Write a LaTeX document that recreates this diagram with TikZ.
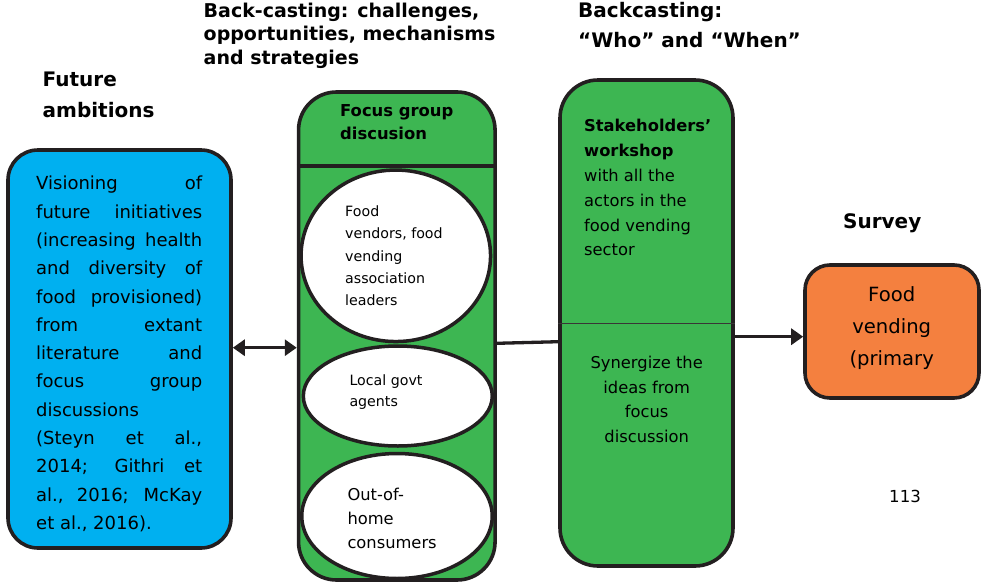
\documentclass[tikz,border=0pt]{standalone}
\usepackage{fontspec}
\setmainfont{DejaVu Sans}
\usetikzlibrary{arrows.meta,shapes.geometric}

\definecolor{skyfill}{HTML}{00B0F0}
\definecolor{grassfill}{HTML}{3DB652}
\definecolor{carrot}{HTML}{F4803F}
\definecolor{inkline}{HTML}{231F20}

\newcommand\fsz[2]{\fontsize{#1}{#2}\selectfont}
% one justified line of the visioning text
\newcommand\jl[1]{\makebox[166pt][s]{#1}}

\begin{document}
\begin{tikzpicture}[x=1pt,y=-1pt,
  panel/.style={draw=inkline, line width=3.6pt, rounded corners=#1, inner sep=0pt},
  bubble/.style={ellipse, draw=inkline, line width=3.5pt, fill=white, inner sep=0pt},
  label/.style={inner sep=0pt, text=black},
  heading/.style={label, font=\bfseries\fsz{19}{23.5}, align=left, anchor=north west},
  link/.style={draw=inkline, line width=3.3pt},
  tiphead/.tip={Triangle[length=12pt,width=16pt]}
]
\useasboundingbox (0,0) rectangle (983,584);

% column headings
\node[heading, font=\bfseries\fsz{20}{31}] (hFuture) at (42.5,72) {Future\\ambitions};
\node[heading] (hBack) at (203.5,2.8) {Back-casting: challenges,\\opportunities, mechanisms\\and strategies};
\node[heading, font=\bfseries\fsz{20}{30}] (hWho) at (578,1.8) {Backcasting:\\“Who” and “When"};
\node[label, font=\bfseries\fsz{20}{24}, anchor=base west] (hSurvey) at (843,228) {Survey};

% visioning panel
\node[panel=30pt, fill=skyfill, minimum width=223pt, minimum height=398pt] (vision) at (119.5,349) {};
\node[label, font=\fsz{18}{28.33}, align=left, anchor=north west] (visionText) at (36,175.8) {%
  \jl{Visioning of}\\
  \jl{future initiatives}\\
  \jl{(increasing health}\\
  \jl{and diversity of}\\
  \jl{food provisioned)}\\
  \jl{from extant}\\
  \jl{literature and}\\
  \jl{focus group}\\
  discussions\\
  \jl{(Steyn et al.,}\\
  \jl{2014; Githri et}\\
  \jl{al., 2016; McKay}\\
  et al., 2016).};

% focus group column
\node[panel=38pt, fill=grassfill, minimum width=196.5pt, minimum height=488pt] (focus) at (396.8,336) {};
\draw[draw=inkline, line width=3.6pt] (focus.west |- 0,166) coordinate (fsL) -- (focus.east |- 0,166) coordinate (fsR);
\node[label, font=\bfseries\fsz{16.4}{23.5}, align=left, anchor=north west] (focusText) at (340,104.2) {Focus group\\discusion};

\node[bubble, minimum width=189.5pt, minimum height=171.5pt] (vendors) at (395.8,255.8) {};
\node[bubble, minimum width=189pt, minimum height=100pt] (govt) at (397.8,396) {};
\node[bubble, minimum width=190.5pt, minimum height=125pt] (consumers) at (397,516) {};

\node[label, font=\fsz{14.2}{22.1}, align=left, anchor=north west] (vendorsText) at (345,205.9)
  {Food\\vendors, food\\vending\\association\\leaders};
\node[label, font=\fsz{14.2}{21.7}, align=left, anchor=north west] (govtText) at (349.3,374.2)
  {Local govt\\agents};
\node[label, font=\fsz{16.3}{24}, align=left, anchor=north west] (consumersText) at (347.3,487.6)
  {Out-of-\\home\\consumers};

% stakeholders' workshop column
\node[panel=38pt, fill=grassfill, minimum width=173pt, minimum height=486pt] (stake) at (646.5,323) {};
\draw[draw=inkline!90, line width=1.4pt] (stake.west |- 0,323.3) coordinate (ssL) -- (stake.east |- 0,323.3) coordinate (ssR);
\node[label, font=\fsz{16.3}{24.8}, align=left, anchor=north west] (stakeText) at (584,119.3)
  {\textbf{Stakeholders’}\\\textbf{workshop}\\with all the\\actors in the\\food vending\\sector};
\node[label, font=\fsz{16.3}{24.7}, align=center, anchor=north] (synergyText) at (646.7,355.9)
  {Synergize the\\ideas from\\focus\\discussion};

% survey panel
\node[panel=25pt, fill=carrot, minimum width=174pt, minimum height=133pt] (survey) at (892,331.5) {};
\node[label, font=\fsz{19.6}{31.7}, align=center, anchor=north] (surveyText) at (891.7,286.8)
  {Food\\vending\\(primary};

% page number
\node[label, font=\fsz{16.6}{20}, anchor=base west] (pageNo) at (889,502.3) {113};

% connectors
\draw[link, tiphead-tiphead] (vision.east |- 0,347.7) -- (focus.west |- 0,347.7);
\draw[link] (focus.east |- 0,343.3) -- (stake.west |- 0,341.7);
\draw[link, -tiphead] (stake.east |- 0,336.7) -- (survey.west |- 0,336.7);
\end{tikzpicture}
\end{document}
